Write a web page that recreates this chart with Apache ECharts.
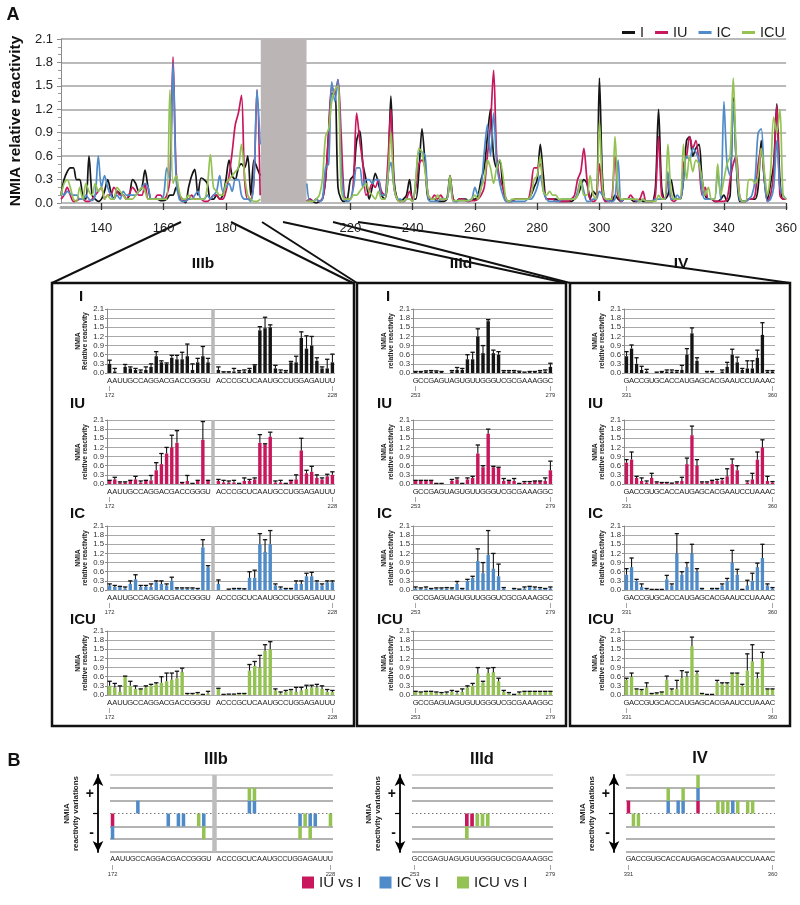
<!DOCTYPE html>
<html><head><meta charset="utf-8">
<script src="https://cdn.jsdelivr.net/npm/echarts@6/dist/echarts.min.js"></script>
<style>html,body{margin:0;padding:0;background:#fff}#c{width:800px;height:905px}</style>
</head><body><div id="c"></div>
<script>
// ---------------- Panel A main chart data (positions 127..360, gap 192..205) ----------------
const MAIN_START = 127;
const MAIN_TICKS = [140,160,180,220,240,260,280,300,320,340,360];
const GAP_BAND = [191.2, 205.9];
const N14 = [null,null,null,null,null,null,null,null,null,null,null,null,null,null];
const LINE_I = [
/*127*/0.1,0.3,0.4,0.45,0.45,0.3,0.3,0.1,0.05,0.6,
/*137*/0.1,0.05,0.02,0.05,0.15,0.3,0.15,0.05,0.15,0.12,
/*147*/0.1,0.05,0.1,0.3,0.25,0.15,0.2,0.42,0.2,0.05,
/*157*/0.05,0.05,0.03,0.03,0.05,0.1,0.1,0.2,0.1,0.05,
/*167*/0,0.2,0.35,0.43,0.1,0.32,0.3,0.25,0.05,0.05,
/*177*/0.1,0.05,0.1,0.3,0.55,0.35,0.3,0.45,0.5,0.45,
/*187*/0.6,0.1,0.55,0.45,0.35,
...N14,
/*206*/0.02,0.05,0.02,0,0.02,0.05,0.3,0.9,1.4,1.4,
/*216*/0.2,0.05,0.02,0.05,0.3,0.35,0.8,0.92,0.5,0.3,
/*226*/0.05,0.2,0.38,0.25,0.1,0.05,0.3,1.37,0.3,0.05,
/*236*/0.02,0.05,0.1,0.3,0.05,0.05,0.4,0.95,0.5,0.05,
/*246*/0.05,0.05,0.02,0.02,0.02,0.05,0.35,0.05,0.02,0.05,
/*256*/0.05,0.05,0.02,0.05,0.05,0.1,0.3,0.45,0.85,1.2,
/*266*/0.6,0.45,0.55,0.2,0.05,0.02,0.02,0.05,0.05,0.05,
/*276*/0.05,0.05,0.1,0.2,0.3,0.75,0.35,0.05,0.05,0.05,
/*286*/0.05,0.02,0.02,0.02,0.02,0.02,0.05,0.1,0.2,0.3,
/*296*/0.25,0.05,0.15,0.1,1.6,0.3,0.02,0.05,0.02,0.1,
/*306*/0.05,0.02,0.05,0.05,0.05,0.02,0.02,0.05,0.02,0.02,
/*316*/0.02,0.02,0.2,1.2,0.2,0.05,0.1,0.3,0.1,0.05,
/*326*/0.05,0.3,0.8,0.85,0.6,0.7,0.75,0.3,0.1,0.05,
/*336*/0.05,0.02,0.02,0.05,0.1,0.02,0.1,1.35,0.5,0.02,
/*346*/0.02,0.02,0.05,0.05,0.05,0.2,0.8,0.3,0.05,0.25,
/*356*/0.5,1.27,0.3,0.05,0.05];
const LINE_IU = [
/*127*/0.05,0.1,0.2,0.1,0.02,0.03,0.05,0.05,0.02,0.02,
/*137*/0.05,0.1,0.15,0.2,0.05,0.1,0.1,0.2,0.15,0.1,
/*147*/0.1,0.05,0.12,0.2,0.15,0.1,0.1,0.25,0.05,0.05,
/*157*/0.05,0.1,0.1,0.05,0.1,0.3,1.87,0.4,0.1,0.02,
/*167*/0.03,0.05,0.1,0.05,0.05,0.05,0.02,0.02,0.05,0.1,
/*177*/0.1,0.05,0.05,0.15,0.35,0.65,1.0,1.15,1.38,0.3,
/*187*/0.05,0.05,0.3,1.45,0.1,
...N14,
/*206*/0.02,0.05,0.02,0.05,0.02,0.05,0.3,0.9,1.5,1.4,
/*216*/1.58,0.9,0.1,0.05,0.05,0.3,1.15,0.8,0.5,0.1,
/*226*/0.15,0.25,0.2,0.3,0.15,0.1,0.5,1.2,0.2,0.05,
/*236*/0.02,0.02,0.05,0.15,0.05,0.2,0.5,0.55,0.45,0.1,
/*246*/0.05,0.1,0.05,0.1,0.05,0.05,0.3,0.05,0.02,0.05,
/*256*/0.05,0.03,0.02,0.03,0.03,0.05,0.1,0.2,0.6,1.0,
/*266*/1.7,0.6,0.3,0.2,0.02,0.02,0.03,0.05,0.05,0.05,
/*276*/0.05,0.05,0.2,0.45,0.45,0.5,0.2,0.05,0.05,0.05,
/*286*/0.02,0.02,0.02,0.02,0.02,0.05,0.1,0.3,0.4,0.7,
/*296*/0.3,0.05,0.02,0.05,0.5,0.1,0.02,0.02,0.05,0.6,
/*306*/0.1,0.02,0.05,0.05,0.1,0.05,0.02,0.05,0.15,0.02,
/*316*/0.02,0.02,0.1,0.85,0.1,0.05,0.3,0.05,0.02,0.05,
/*326*/0.05,0.5,0.6,0.85,0.7,0.8,0.5,0.1,0.2,0.05,
/*336*/0.05,0.02,0.02,0.02,0.02,0.05,0.3,0.5,0.6,0.1,
/*346*/0.02,0.02,0.05,0.05,0.1,0.5,0.7,0.3,0.02,0.1,
/*356*/0.4,1.25,0.1,0.05,0.05];
const LINE_IC = [
/*127*/0.15,0.1,0.15,0.12,0.1,0.1,0.05,0.05,0.1,0.05,
/*137*/0.03,0.1,0.6,0.2,0.35,0.2,0.1,0.05,0.1,0.05,
/*147*/0.15,0.1,0.1,0.1,0.1,0.15,0.2,0.25,0.2,0.05,
/*157*/0.05,0.05,0.05,0.1,0.45,0.3,1.8,0.3,0.05,0.02,
/*167*/0.02,0.05,0.05,0.1,0.15,0.05,0.05,0.1,0.05,0.1,
/*177*/0.15,0.35,0.15,0.2,0.25,0.15,0.3,0.3,0.1,0.05,
/*187*/0.05,0.02,0.3,1.45,0.75,
...N14,
/*206*/0.25,0.02,0.02,0.05,0.02,0.05,0.45,0.5,1.55,1.3,
/*216*/1.58,0.5,0.05,0.02,0.05,0.2,0.45,0.45,0.2,0.3,
/*226*/0.3,0.25,0.3,0.3,0.1,0.1,0.35,0.52,0.2,0.05,
/*236*/0.05,0.02,0.05,0.05,0.02,0.3,0.65,0.65,0.6,0.05,
/*246*/0.02,0.02,0.02,0.05,0.05,0.05,0.3,0.02,0.02,0.03,
/*256*/0.03,0.03,0.03,0.05,0.2,0.1,0.2,0.65,1.0,0.6,
/*266*/1.15,0.5,0.25,0.1,0.02,0.02,0.02,0.02,0.02,0.02,
/*276*/0.02,0.05,0.05,0.1,0.2,0.35,0.15,0.05,0.02,0.02,
/*286*/0.02,0.02,0.05,0.05,0.05,0.05,0.05,0.15,0.3,0.15,
/*296*/0.02,0.02,0.05,0.05,0.15,0.1,0.05,0.02,0.02,0.05,
/*306*/0.55,0.02,0.05,0.05,0.05,0.05,0.03,0.02,0.05,0.02,
/*316*/0.02,0.02,0.05,0.05,0.05,0.05,0.4,0.05,0.05,0.1,
/*326*/0.05,0.3,0.6,0.55,0.7,0.65,0.55,0.15,0.05,0.05,
/*336*/0.05,0.05,0.4,0.05,1.3,0.5,0.35,1.3,0.5,0.05,
/*346*/0.02,0.02,0.05,0.1,0.3,0.9,0.95,0.3,0.02,0.05,
/*356*/0.2,0.8,0.2,0.1,0.05];
const LINE_ICU = [
/*127*/0.1,0.25,0.3,0.2,0.05,0.02,0.2,0.05,0.25,0.15,
/*137*/0.1,0.25,0.15,0.2,0.05,0.1,0.05,0.05,0.2,0.15,
/*147*/0.1,0.05,0.05,0.05,0.1,0.15,0.2,0.15,0.05,0.05,
/*157*/0.05,0.05,0.05,0.05,0.05,1.45,0.25,0.35,0.15,0.05,
/*167*/0.05,0.1,0.05,0.05,0.05,0.05,0.05,0.2,0.62,0.2,
/*177*/0.15,0.1,0.1,0.25,0.3,0.35,0.4,0.45,0.75,0.35,
/*187*/0.1,0.05,0.02,0.02,0.05,
...N14,
/*206*/0.02,0.02,0.02,0.05,0.1,0.3,0.85,0.95,1.3,1.45,
/*216*/1.5,0.2,0.05,0.05,0.05,0.1,0.1,0.15,0.2,0.25,
/*226*/0.15,0.1,0.05,0.15,0.05,0.05,0.3,0.9,0.2,0.05,
/*236*/0.02,0.02,0.05,0.05,0.02,0.3,0.7,0.65,0.4,0.1,
/*246*/0.05,0.05,0.1,0.05,0.05,0.05,0.35,0.03,0.03,0.03,
/*256*/0.03,0.03,0.03,0.05,0.1,0.05,0.2,0.3,0.55,0.45,
/*266*/0.25,0.45,0.55,0.35,0.05,0.02,0.05,0.05,0.05,0.05,
/*276*/0.05,0.05,0.1,0.3,0.35,0.6,0.15,0.1,0.15,0.1,
/*286*/0.1,0.05,0.05,0.05,0.05,0.05,0.05,0.1,0.3,0.1,
/*296*/0.1,0.35,0.1,0.05,1.05,0.2,0.05,0.05,0.05,0.85,
/*306*/0.15,0.05,0.05,0.05,0.05,0.05,0.05,0.02,0.05,0.02,
/*316*/0.02,0.02,0.02,0.1,0.05,0.05,0.75,0.15,0.05,0.05,
/*326*/0.05,0.75,0.3,0.6,0.4,0.55,0.5,0.3,0.1,0.2,
/*336*/0.05,0.05,0.5,0.1,0.3,0.5,0.6,1.6,0.6,0.1,
/*346*/0.02,0.02,0.3,0.3,0.25,0.35,0.7,0.4,0.1,0.4,
/*356*/1.1,0.9,1.2,0.1,0.05];

// ---------------- Sub-panel sequences ----------------
const SEQ_IIIB_1 = 'AAUUGCCAGGACGACCGGGU';
const SEQ_IIIB_2 = 'ACCCGCUCAAUGCCUGGAGAUUU';
const SEQ_IIID = 'GCCGAGUAGUGUUGGGUCGCGAAAGGC';
const SEQ_IV = 'GACCGUGCACCAUGAGCACGAAUCCUAAAC';

// ---------------- IIIb bars (172-191 then 206-228) ----------------
const IIIB_I_VAL = [0.3,0.05,0,0.2,0.15,0.1,0.05,0.1,0.2,0.55,0.35,0.3,0.5,0.45,0.45,0.55,0.1,0.35,0.55,0.35, 0.1,0.02,0.02,0.05,0.05,0.05,0.1,0.25,1.4,1.47,1.5,0.15,0.05,0.05,0.35,0.35,1.15,0.8,0.9,0.4,0.15,0.15,0.35];
const IIIB_I_ERR = [0.12,0.1,0,0.08,0.05,0.05,0.05,0.1,0.1,0.15,0.05,0.03,0.08,0.13,0.23,0.4,0.2,0.13,0.32,0.13, 0.1,0.02,0.02,0.1,0.03,0.05,0.05,0.02,0.12,0.36,0.08,0.1,0.05,0.03,0.03,0.2,0.2,0.42,0.3,0.1,0.05,0.3,0.27];
const IIIB_IU_VAL = [0.1,0.15,0.05,0.05,0.1,0.15,0.05,0.1,0.12,0.45,0.65,1.0,1.2,1.35,0.05,0.1,0.02,0.1,1.45,0.1, 0.1,0.05,0.05,0.05,0.02,0.1,0.1,0.15,1.35,1.3,1.55,0.05,0.05,0.02,0.1,0.15,1.1,0.35,0.4,0.2,0.15,0.25,0.3];
const IIIB_IU_ERR = [0.02,0.07,0.02,0.02,0.02,0.1,0.05,0.02,0.16,0.25,0.35,0.2,0.4,0.4,0,0.18,0,0.02,0.6,0.02, 0.05,0.07,0.05,0.07,0,0.1,0.05,0.05,0.27,0.02,0.15,0.05,0.07,0,0.02,0.15,0.4,0.1,0.18,0.1,0.05,0.07,0.1];
const IIIB_IC_VAL = [0.15,0.1,0.1,0.05,0.2,0.35,0.1,0.1,0.1,0.25,0.2,0.15,0.3,0.05,0.05,0.05,0.05,0.02,1.4,0.75, 0.2,0,0.02,0.05,0.05,0.02,0.4,0.4,1.5,1.25,1.5,0.15,0.05,0.05,0.05,0.2,0.2,0.45,0.45,0.25,0.15,0.25,0.25];
const IIIB_IC_ERR = [0.05,0.05,0.02,0.05,0.1,0.15,0.05,0.05,0.1,0.05,0.1,0.05,0.12,0.02,0.02,0.02,0.02,0.03,0.25,0.05, 0.13,0,0.01,0,0,0.02,0.2,0.25,0.35,0.4,0.45,0.05,0.05,0,0,0.1,0.1,0.1,0.13,0.05,0.05,0.05,0.05];
const IIIB_ICU_VAL = [0.3,0.25,0.1,0.6,0.3,0.2,0.2,0.25,0.3,0.35,0.4,0.45,0.5,0.55,0.75,0.02,0.02,0.05,0.02,0.05, 0.2,0.02,0.03,0.03,0.05,0.05,0.8,0.95,0.9,1.45,1.5,0.15,0.05,0.1,0.15,0.1,0.15,0.2,0.25,0.25,0.2,0.1,0.1];
const IIIB_ICU_ERR = [0.15,0.13,0.2,0.02,0.15,0.1,0,0.05,0.05,0.05,0.2,0.27,0.22,0.23,0.13,0.03,0.03,0.03,0,0.07, 0.02,0,0,0,0,0,0.2,0.15,0.4,0.2,0.25,0.05,0.05,0.05,0.03,0.15,0.1,0.12,0.07,0.1,0.1,0.08,0.05];

// ---------------- IIId bars (253-279) ----------------
const IIID_I_VAL = [0.03,0.03,0.05,0.05,0.05,0.03,0,0.05,0.1,0.1,0.45,0.45,1.2,0.65,1.7,0.65,0.6,0.05,0.05,0.05,0.05,0.02,0.03,0.03,0.05,0.05,0.2];
const IIID_I_ERR = [0.02,0.02,0.02,0.03,0.02,0.02,0,0.03,0.08,0.05,0.15,0.23,0.25,0.25,0.05,0.1,0.1,0.03,0.03,0.03,0.01,0.01,0.02,0.02,0.03,0.05,0.12];
const IIID_IU_VAL = [0.1,0.1,0.1,0.1,0.02,0.02,0,0.1,0.15,0.02,0.15,0.2,1.0,0.55,1.65,0.55,0.55,0.1,0.1,0.1,0.02,0.05,0.05,0.1,0.1,0.1,0.45];
const IIID_IU_ERR = [0.02,0.02,0.02,0.02,0,0,0,0.05,0.05,0,0.05,0.05,0.28,0.05,0.15,0.03,0,0.08,0.02,0.08,0,0.03,0.03,0,0,0.1,0.3];
const IIID_IC_VAL = [0.05,0.05,0.05,0.05,0.05,0.05,0.05,0.05,0.2,0.05,0.3,0.4,0.95,0.55,1.15,0.7,0.45,0.05,0,0.03,0.03,0.05,0.1,0.05,0.05,0.03,0.05];
const IIID_IC_ERR = [0.05,0.02,0.05,0,0.02,0.02,0.03,0.02,0.08,0,0.05,0.05,0.4,0.35,0.8,0.5,0.4,0.03,0,0.02,0,0.05,0.02,0.05,0.03,0.02,0.05];
const IIID_ICU_VAL = [0.1,0.08,0.1,0.1,0.08,0.05,0.05,0.1,0.05,0.1,0.25,0.3,0.7,0.4,0.72,0.75,0.45,0.1,0.05,0.02,0.05,0.1,0.1,0.1,0.1,0.1,0.1];
const IIID_ICU_ERR = [0.02,0.02,0.02,0.02,0.02,0.03,0.05,0.05,0.07,0.1,0.05,0.08,0.2,0.05,0.16,0.15,0.1,0.05,0.03,0,0.05,0.02,0.02,0.02,0.02,0.02,0.02];

// ---------------- IV bars (331-360) ----------------
const IV_I_VAL = [0.55,0.8,0.3,0.1,0.05,0,0.02,0.05,0.05,0.05,0.05,0.1,0.6,1.3,0.4,0,0.02,0.02,0,0.05,0.2,0.6,0.35,0.1,0.15,0.15,0.5,1.25,0.05,0.05];
const IV_I_ERR = [0.15,0.12,0.2,0.12,0.07,0,0.01,0,0.05,0.05,0.03,0.15,0.2,0.18,0.1,0,0.03,0.03,0,0.05,0.15,0.18,0.17,0.05,0.25,0.25,0.25,0.4,0.03,0.03];
const IV_IU_VAL = [0.7,0.8,0.2,0.1,0.05,0.2,0.05,0.05,0.03,0.03,0.05,0.1,0.65,1.6,0.6,0.05,0.05,0.1,0.1,0.12,0.25,0.65,0.45,0,0.05,0.15,0.8,1.2,0.1,0.05];
const IV_IU_ERR = [0.1,0.25,0.05,0.1,0.05,0.15,0.02,0,0.02,0,0.02,0.12,0.2,0.3,0.2,0.02,0.02,0.02,0.05,0.06,0.25,0.17,0.15,0,0.05,0.2,0.25,0.25,0.15,0.03];
const IV_IC_VAL = [0.5,0.75,0.3,0.1,0.02,0.02,0.02,0.02,0.35,0.15,1.2,0.5,0.75,1.2,0.6,0.05,0,0.05,0.05,0.15,0.3,0.9,0.5,0.02,0.15,0.3,0.75,1.05,0.15,0.05];
const IV_IC_ERR = [0.2,0.3,0.05,0.1,0.03,0,0,0,0.13,0.05,0.65,0.1,0.15,0.3,0.1,0,0,0,0,0.05,0.08,0.4,0.18,0,0.17,0.25,0.13,0.45,0.05,0.03];
const IV_ICU_VAL = [0.5,0.6,0.2,0.15,0.25,0.05,0.05,0.1,0.5,0.15,0.2,0.55,0.6,1.6,0.7,0.05,0.02,0.02,0.4,0.35,0.35,0.7,0.7,0.3,0.8,1.1,0.55,1.2,0.2,0.2];
const IV_ICU_ERR = [0.05,0.12,0,0.03,0.15,0,0.02,0,0.12,0.05,0.28,0.25,0.15,0.3,0.08,0,0,0,0.08,0.05,0.05,0.02,0.02,0.05,0.55,0.55,0.17,0.2,0,0];

// ---------------- Panel B: reactivity variations (units) ----------------
const B_IIIB_IU = [-1,0,0,0,0,0,0,0,0,0,0,0,0,0,0,0,0,0,0,0, 0,0,0,0,0,0,0,0,0,0,0,0,0,0,0,0,0,0,0,0,0,0,0];
const B_IIIB_IC = [-1,0,0,0,0,1,0,0,0,0,0,-1,0,-1,-1,0,0,0,-1,0, 0,0,0,0,0,0,1,1,0,0,0,0,0,0,0,0,-1,0,-1,-1,0,0,0];
const B_IIIB_ICU = [0,0,0,0,0,0,0,0,0,0,0,0,0,0,0,0,0,-1,-1,0, 0,0,0,0,0,0,1,1,0,0,0,0,0,0,0,0,-1,-1,-1,0,0,0,-1];
const B_IIID_IU = [0,0,0,0,0,0,0,0,0,0,-1,-1,0,0,0,0,0,0,0,0,0,0,0,0,0,0,0];
const B_IIID_IC = [0,0,0,0,0,0,0,0,0,0,0,0,0,0,0,0,0,0,0,0,0,0,0,0,0,0,0];
const B_IIID_ICU = [0,0,0,0,0,0,0,0,0,0,-1,0,-1,-1,-1,0,0,0,0,0,0,0,0,0,0,0,0];
const B_IV_IU = [1,0,0,0,0,0,0,0,0,0,0,0,0,0,1,0,0,0,0,0,0,0,0,0,0,0,0,0,0,0];
const B_IV_IC = [0,0,0,0,0,0,0,0,1,0,1,1,0,0,1,0,0,0,0,0,0,1,0,0,0,0,0,0,0,0];
const B_IV_ICU = [0,-1,-1,0,0,0,0,0,1,0,0,1,0,0,1,0,0,0,1,1,1,0,1,0,1,1,0,0,0,0];

// ---------------- styling ----------------
const COL = {I:'#151515', IU:'#c8175d', IC:'#4f8bc9', ICU:'#94c253'};
const FONT = "'Liberation Sans', Arial, Helvetica, sans-serif";
const CONSTRUCTS = ['I','IU','IC','ICU'];
const SUB_TOPS = [309, 420, 526, 631];
const SUB_H = 64;

const REGIONS = [
  {key:'IIIb', seq:[SEQ_IIIB_1, SEQ_IIIB_2], ends:['172','228'], left:107, width:228, bLeft:110, bWidth:223, labX:70,
   val:{I:IIIB_I_VAL, IU:IIIB_IU_VAL, IC:IIIB_IC_VAL, ICU:IIIB_ICU_VAL},
   err:{I:IIIB_I_ERR, IU:IIIB_IU_ERR, IC:IIIB_IC_ERR, ICU:IIIB_ICU_ERR},
   b:{IU:B_IIIB_IU, IC:B_IIIB_IC, ICU:B_IIIB_ICU}},
  {key:'IIId', seq:[SEQ_IIID], ends:['253','279'], left:413, width:140, bLeft:412, bWidth:141, labX:377,
   val:{I:IIID_I_VAL, IU:IIID_IU_VAL, IC:IIID_IC_VAL, ICU:IIID_ICU_VAL},
   err:{I:IIID_I_ERR, IU:IIID_IU_ERR, IC:IIID_IC_ERR, ICU:IIID_ICU_ERR},
   b:{IU:B_IIID_IU, IC:B_IIID_IC, ICU:B_IIID_ICU}},
  {key:'IV', seq:[SEQ_IV], ends:['331','360'], left:624, width:151, bLeft:626, bWidth:149, labX:588,
   val:{I:IV_I_VAL, IU:IV_IU_VAL, IC:IV_IC_VAL, ICU:IV_ICU_VAL},
   err:{I:IV_I_ERR, IU:IV_IU_ERR, IC:IV_IC_ERR, ICU:IV_ICU_ERR},
   b:{IU:B_IV_IU, IC:B_IV_IC, ICU:B_IV_ICU}}
];

const grids = [], xAxes = [], yAxes = [], series = [];

// ---------------- main chart ----------------
grids.push({left:60, top:39, width:729, height:164});
xAxes.push({type:'value', gridIndex:0, position:'bottom', min:127, max:360, offset:8,
  axisLine:{show:false}, splitLine:{show:false},
  axisTick:{show:true, customValues:MAIN_TICKS, length:7, lineStyle:{color:'#333', width:1.3}},
  axisLabel:{customValues:MAIN_TICKS, fontSize:13, color:'#222', margin:11, fontFamily:FONT}});
xAxes.push({type:'value', gridIndex:0, position:'bottom', min:127, max:360, offset:4,
  axisLine:{show:true, lineStyle:{type:[1,1.3], width:3, color:'#a8a8a8'}},
  axisTick:{show:false}, axisLabel:{show:false}, splitLine:{show:false}});
yAxes.push({type:'value', gridIndex:0, min:0, max:2.1, interval:0.3,
  name:'NMIA relative reactivity', nameLocation:'middle', nameGap:34, nameRotate:90,
  nameTextStyle:{fontSize:15.5, fontWeight:'bold', color:'#111', fontFamily:FONT},
  axisLine:{show:true, lineStyle:{color:'#8a8a8a'}},
  axisTick:{show:true, length:4, lineStyle:{color:'#8a8a8a'}},
  minorTick:{show:true, splitNumber:3, length:3, lineStyle:{color:'#9a9a9a'}},
  axisLabel:{fontSize:13, color:'#222', margin:8, formatter:v=>v.toFixed(1), fontFamily:FONT},
  splitLine:{lineStyle:{color:'#a3a3a3', width:1.5}}});

const MAIN_LINES = {I:LINE_I, IU:LINE_IU, IC:LINE_IC, ICU:LINE_ICU};
CONSTRUCTS.forEach((k, si) => {
  const arr = MAIN_LINES[k];
  const s = {type:'line', name:k, xAxisIndex:0, yAxisIndex:0, symbol:'none', smooth:0.3,
    connectNulls:false, data: arr.map((v,i)=>[MAIN_START+i, v]),
    lineStyle:{width:1.7, color:COL[k]}, itemStyle:{color:COL[k]}, z:3+si};
  if (si === 0) s.markArea = {silent:true, itemStyle:{color:'#bbb5b6', opacity:1},
    data:[[{xAxis:GAP_BAND[0]},{xAxis:GAP_BAND[1]}]]};
  series.push(s);
});

// ---------------- helpers ----------------
function lettersOf(R){
  if (R.seq.length === 2) return [...R.seq[0], '', ...R.seq[1]];
  return [...R.seq[0]];
}
function withGap(R, arr){
  if (R.seq.length === 2) { const g = R.seq[0].length; return arr.slice(0,g).concat([null], arr.slice(g)); }
  return arr.slice();
}
function seqFormatter(letters, ends){
  return (val, idx) => {
    const L = letters[idx] || '';
    if (idx === 0) return '{s|' + L + '}\n{t||}\n{n|' + ends[0] + '}';
    if (idx === letters.length - 1) return '{s|' + L + '}\n{t||}\n{n|' + ends[1] + '}';
    return '{s|' + L + '}';
  };
}
function errRender(params, api){
  const x = api.value(0), v = api.value(1), e = api.value(2);
  if (!(v + e > 0)) return;
  const p0 = api.coord([x, v]), p1 = api.coord([x, v + e]);
  const w = api.size([1, 0])[0] * 0.42;
  return {type:'group', children:[
    {type:'line', shape:{x1:p0[0], y1:p0[1], x2:p1[0], y2:p1[1]}, style:{stroke:'#111', lineWidth:1.1}},
    {type:'line', shape:{x1:p1[0]-w, y1:p1[1], x2:p1[0]+w, y2:p1[1]}, style:{stroke:'#111', lineWidth:1.3}}
  ]};
}
const RICH_SUB = {s:{fontSize:7.6, color:'#222', lineHeight:9, fontFamily:FONT},
                  t:{fontSize:5.5, color:'#444', lineHeight:6},
                  n:{fontSize:5.8, color:'#333', lineHeight:8, fontFamily:FONT}};

// ---------------- sub-panels ----------------
REGIONS.forEach(R => {
  const letters = lettersOf(R);
  const gapIdx = R.seq.length === 2 ? R.seq[0].length : -1;
  const cats = letters.map((l,i) => i === gapIdx ? 'gap' : 'c' + i);
  CONSTRUCTS.forEach((k, ci) => {
    const g = grids.length;
    grids.push({left:R.left, top:SUB_TOPS[ci], width:R.width, height:SUB_H});
    const xi = xAxes.length, yi = yAxes.length;
    xAxes.push({type:'category', gridIndex:g, data:cats, axisLine:{show:false}, axisTick:{show:false},
      splitLine:{show:false},
      axisLabel:{interval:0, margin:3, formatter:seqFormatter(letters, R.ends), rich:RICH_SUB}});
    const yname = (R.key === 'IIIb' && k === 'I') ? 'NMIA\nRelative reactivity' : 'NMIA\nrelative reactivity';
    yAxes.push({type:'value', gridIndex:g, min:0, max:2.1, interval:0.3,
      name:yname, nameLocation:'middle', nameRotate:90, nameGap:14,
      nameTextStyle:{fontSize:6.8, fontWeight:'bold', color:'#222', lineHeight:7.5, fontFamily:FONT},
      axisLine:{show:true, lineStyle:{color:'#8a8a8a'}},
      axisTick:{show:true, length:2, lineStyle:{color:'#8a8a8a'}},
      axisLabel:{fontSize:7.8, color:'#333', margin:3, formatter:v=>v.toFixed(1), fontFamily:FONT},
      splitLine:{lineStyle:{color:'#a8a8a8', width:1}}});
    const vals = withGap(R, R.val[k]), errs = withGap(R, R.err[k]);
    const bar = {type:'bar', name:R.key + ' ' + k, xAxisIndex:xi, yAxisIndex:yi, data:vals,
      barWidth:'66%', itemStyle:{color:COL[k]}, z:2};
    if (gapIdx >= 0) bar.markLine = {silent:true, symbol:'none', label:{show:false},
      lineStyle:{color:'#b9b9b9', width:3.5, type:'solid'}, data:[{xAxis:'gap'}], animation:false};
    series.push(bar);
    series.push({type:'custom', name:R.key + ' ' + k + ' err', xAxisIndex:xi, yAxisIndex:yi,
      renderItem:errRender, z:4,
      data: vals.map((v,i) => v === null ? null : [i, v, errs[i]]).filter(d => d !== null),
      encode:{x:0, y:1}});
  });
});

// ---------------- panel B ----------------
const RICH_B = {s:{fontSize:7.2, color:'#222', lineHeight:9, fontFamily:FONT},
                t:{fontSize:5.5, color:'#444', lineHeight:6},
                n:{fontSize:5.8, color:'#333', lineHeight:8, fontFamily:FONT}};
REGIONS.forEach(R => {
  const letters = lettersOf(R);
  const gapIdx = R.seq.length === 2 ? R.seq[0].length : -1;
  const cats = letters.map((l,i) => i === gapIdx ? 'gap' : 'c' + i);
  const g = grids.length;
  grids.push({left:R.bLeft, top:775, width:R.bWidth, height:77});
  const xi = xAxes.length, y0 = yAxes.length;
  xAxes.push({type:'category', gridIndex:g, data:cats, axisLine:{show:false, onZero:false}, axisTick:{show:false},
    splitLine:{show:false},
    axisLabel:{interval:0, margin:3, formatter:seqFormatter(letters, R.ends), rich:RICH_B}});
  yAxes.push({type:'value', gridIndex:g, min:-3, max:3, interval:1,
    axisLine:{show:false}, axisTick:{show:false}, axisLabel:{show:false},
    splitLine:{show:true, lineStyle:{width:1.5, color:['#9a9a9a','#9a9a9a','#9a9a9a','rgba(0,0,0,0)','#9a9a9a','#9a9a9a','#cfcfcf']}}});
  yAxes.push({type:'value', gridIndex:g, min:-3, max:3, interval:1, offset:12, position:'left',
    axisLine:{show:true, onZero:false, symbol:['arrow','arrow'], symbolSize:[8,11], lineStyle:{color:'#000', width:1.8}},
    axisTick:{show:true, customValues:[0], length:5, lineStyle:{color:'#000', width:1.2}},
    axisLabel:{customValues:[-1.5,1.5], formatter:v => v > 0 ? '+' : '-', fontSize:14, fontWeight:'bold', color:'#111', margin:4, fontFamily:FONT},
    splitLine:{show:false},
    name:'NMIA\nreactivity variations', nameLocation:'middle', nameRotate:90, nameGap:18,
    nameTextStyle:{fontSize:8, fontWeight:'bold', color:'#222', lineHeight:9, fontFamily:FONT}});
  ['IU','IC','ICU'].forEach((k, si) => {
    const s = {type:'bar', name:k + ' vs I', xAxisIndex:xi, yAxisIndex:y0, stack:'B' + R.key,
      data: withGap(R, R.b[k]).map(v => (v === null || v === 0) ? '-' : v),
      barWidth:'70%', itemStyle:{color:COL[k]}};
    if (si === 0) {
      const ml = [{yAxis:0, lineStyle:{type:[1.5,2.5], color:'#777', width:1}}];
      if (gapIdx >= 0) ml.push({xAxis:'gap', lineStyle:{color:'#bdbdbd', width:4.5, type:'solid'}});
      s.markLine = {silent:true, symbol:'none', label:{show:false}, data:ml, animation:false};
    }
    series.push(s);
  });
});

// ---------------- decorations ----------------
const TXT = (x, y, text, size, extra) => Object.assign({type:'text', x:x, y:y,
  style:{text:text, font:'bold ' + size + 'px ' + FONT, fill:'#111', align:'center', verticalAlign:'middle'}}, extra || {});
const graphic = [
  TXT(13, 15, 'A', 18),
  TXT(14, 761, 'B', 18),
  TXT(203, 264, 'IIIb', 15.5), TXT(461, 264, 'IIId', 15.5), TXT(681, 264, 'IV', 15.5),
  TXT(216, 759, 'IIIb', 16.5), TXT(482, 759, 'IIId', 16.5), TXT(700, 758, 'IV', 16.5),
  {type:'rect', shape:{x:52, y:283, width:302, height:443}, style:{fill:'none', stroke:'#111', lineWidth:2.5}},
  {type:'rect', shape:{x:357, y:283, width:209, height:443}, style:{fill:'none', stroke:'#111', lineWidth:2.5}},
  {type:'rect', shape:{x:570, y:283, width:220, height:443}, style:{fill:'none', stroke:'#111', lineWidth:2.5}},
  {type:'line', shape:{x1:181, y1:222, x2:52, y2:283}, style:{stroke:'#111', lineWidth:2}},
  {type:'line', shape:{x1:231, y1:222, x2:353, y2:283}, style:{stroke:'#111', lineWidth:2}},
  {type:'line', shape:{x1:262, y1:222, x2:357, y2:283}, style:{stroke:'#111', lineWidth:2}},
  {type:'line', shape:{x1:283, y1:222, x2:566, y2:283}, style:{stroke:'#111', lineWidth:2}},
  {type:'line', shape:{x1:333, y1:222, x2:570, y2:283}, style:{stroke:'#111', lineWidth:2}},
  {type:'line', shape:{x1:358, y1:222, x2:790, y2:283}, style:{stroke:'#111', lineWidth:2}}
];
const LAB_Y = [297, 404, 514, 620];
REGIONS.forEach(R => {
  CONSTRUCTS.forEach((k, ci) => {
    graphic.push({type:'text', x: R.labX + (k === 'I' ? 9 : 0), y: LAB_Y[ci],
      style:{text:k, font:'bold 15px ' + FONT, fill:'#111', align:'left', verticalAlign:'middle'}});
  });
});

const chart = echarts.init(document.getElementById('c'), null, {renderer:'canvas', width:800, height:905});
chart.setOption({
  animation:false,
  backgroundColor:'#fff',
  textStyle:{fontFamily:FONT},
  grid:grids, xAxis:xAxes, yAxis:yAxes, series:series,
  legend:[
    {data:['I','IU','IC','ICU'], right:10, top:20, icon:'rect', itemWidth:13, itemHeight:3, itemGap:11,
     textStyle:{fontSize:14.5, color:'#222', fontFamily:FONT}, selectedMode:false},
    {data:['IU vs I','IC vs I','ICU vs I'], left:297, top:870, icon:'rect', itemWidth:12, itemHeight:12, itemGap:18,
     textStyle:{fontSize:15, color:'#222', fontFamily:FONT}, selectedMode:false}
  ],
  graphic:graphic
});
</script></body></html>
